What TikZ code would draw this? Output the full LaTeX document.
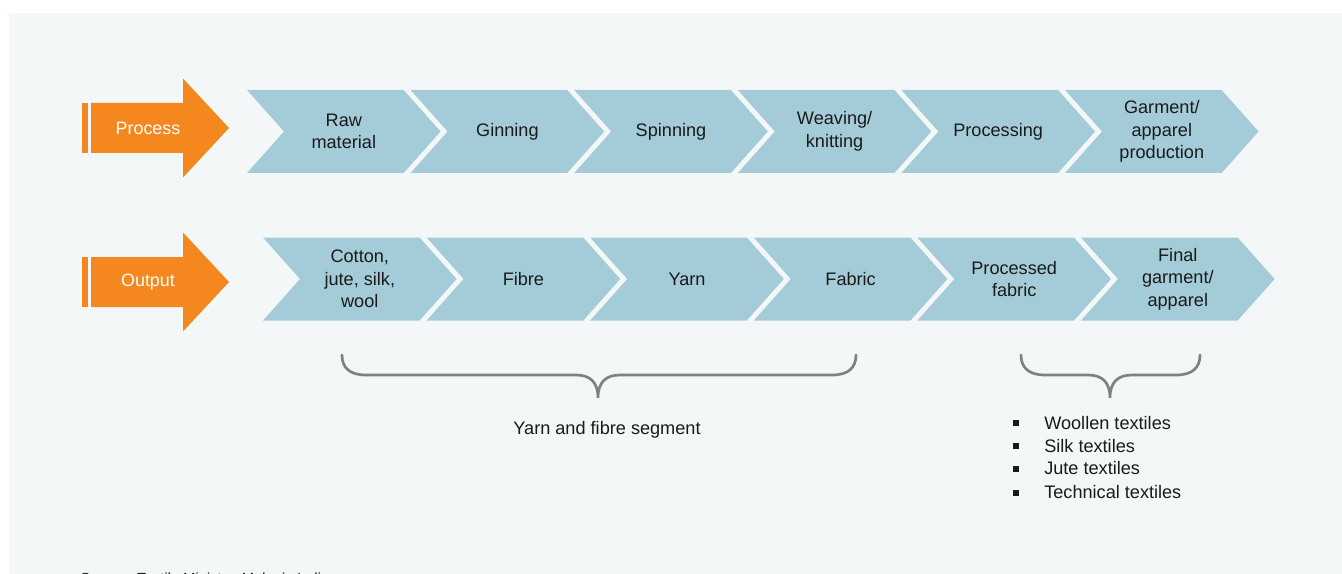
\documentclass[tikz,border=0pt]{standalone}
\usepackage{fontspec}
\setmainfont{Liberation Sans}
\usepackage{tikz}
\usetikzlibrary{calc}

\definecolor{sfondo}{HTML}{F4F7F8}
\definecolor{azzurro}{HTML}{A4CCD8}
\definecolor{arancio}{HTML}{F5871F}
\definecolor{grigio}{HTML}{808080}
\definecolor{testo}{HTML}{1A1A1A}

\begin{document}
\begin{tikzpicture}[x=0.75pt, y=-0.75pt,
  etichetta/.style={text=testo, align=center, inner sep=0pt,
    font=\fontsize{13.6}{17}\selectfont},
  titolo/.style={text=white, inner sep=0pt, font=\fontsize{13.4}{17}\selectfont},
  graffa/.style={draw=grigio, line width=2pt, line cap=round}]

\useasboundingbox (0,0) rectangle (1342,574);

% sfondo
\fill[white] (0,0) rectangle (1342,574);
\fill[sfondo] (9,13) rectangle (1342,574);

% frecce arancioni
\foreach \cy/\nome/\txt in {128/proc/Process, 282/out/Output} {
  \fill[arancio] (82,\cy-25) rectangle (88,\cy+25);
  \fill[arancio] (91,\cy-25) -- (183,\cy-25) -- (183,\cy-49.5) -- (229,\cy)
    -- (183,\cy+49.5) -- (183,\cy+25) -- (91,\cy+25) -- cycle;
  \node[titolo] (\nome) at (148,\cy) {\txt};
}

% riga processo
\foreach \i/\txt in {1/{Raw\\material}, 2/Ginning, 3/Spinning,
    4/{Weaving/\\knitting}, 5/Processing, 6/{Garment/\\apparel\\production}} {
  \pgfmathsetmacro{\xa}{247+163.6*(\i-1)}
  \fill[azzurro] (\xa,90) -- (\xa+156.6,90) -- (\xa+193.6,131.5)
    -- (\xa+156.6,173) -- (\xa,173) -- (\xa+37,131.5) -- cycle;
  \node[etichetta] (p\i) at (\xa+96.8,131.5) {\txt};
}

% riga output
\foreach \i/\txt in {1/{Cotton,\\jute, silk,\\wool}, 2/Fibre, 3/Yarn,
    4/Fabric, 5/{Processed\\fabric}, 6/{Final\\garment/\\apparel}} {
  \pgfmathsetmacro{\xa}{263+163.6*(\i-1)}
  \fill[azzurro] (\xa,237.5) -- (\xa+156.6,237.5) -- (\xa+193.6,279)
    -- (\xa+156.6,320.5) -- (\xa,320.5) -- (\xa+37,279) -- cycle;
  \node[etichetta] (o\i) at (\xa+96.8,279) {\txt};
}

% graffe
\coordinate (G1a) at (342,355);
\coordinate (G1m) at (598,398);
\coordinate (G1b) at (856,355);
\draw[graffa] (G1a) .. controls (342,368) and (350,375) .. (366,375)
  -- (576,375) .. controls (590,375) and (598,382) .. (G1m)
  .. controls (598,382) and (606,375) .. (620,375)
  -- (832,375) .. controls (848,375) and (856,368) .. (G1b);

\coordinate (G2a) at (1021,355);
\coordinate (G2m) at (1110,398);
\coordinate (G2b) at (1200,355);
\draw[graffa] (G2a) .. controls (1021,368) and (1029,375) .. (1045,375)
  -- (1088,375) .. controls (1102,375) and (1110,382) .. (G2m)
  .. controls (1110,382) and (1118,375) .. (1132,375)
  -- (1176,375) .. controls (1192,375) and (1200,368) .. (G2b);

\node[etichetta] (seg) at (607,430) {Yarn and fibre segment};

% elenco
\foreach \j/\y/\txt in {1/423/Woollen textiles, 2/446/Silk textiles,
    3/468.5/Jute textiles, 4/492.5/Technical textiles} {
  \fill[testo] (1013,\y-3) rectangle (1019,\y+3);
  \node[etichetta, anchor=west] (e\j) at (1044,\y) {\txt};
}

% fonte
\node[etichetta, anchor=base west, font=\fontsize{11}{13}\selectfont] (fonte)
  at (80,583) {Source: \textit{Textile Ministry; Make in India}};

\end{tikzpicture}
\end{document}
